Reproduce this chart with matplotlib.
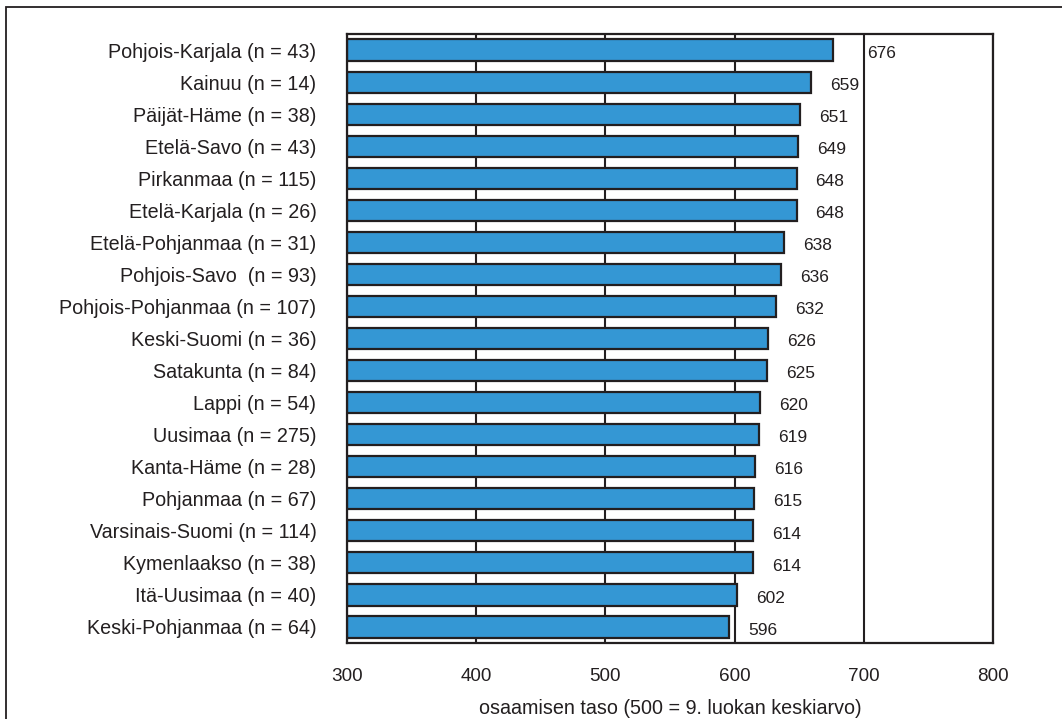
import matplotlib
matplotlib.use("Agg")
import matplotlib.pyplot as plt
from matplotlib import font_manager
from matplotlib.patches import Rectangle
import numpy as np

regions = [
    "Pohjois-Karjala (n = 43)",
    "Kainuu (n = 14)",
    "Päijät-Häme (n = 38)",
    "Etelä-Savo (n = 43)",
    "Pirkanmaa (n = 115)",
    "Etelä-Karjala (n = 26)",
    "Etelä-Pohjanmaa (n = 31)",
    "Pohjois-Savo  (n = 93)",
    "Pohjois-Pohjanmaa (n = 107)",
    "Keski-Suomi (n = 36)",
    "Satakunta (n = 84)",
    "Lappi (n = 54)",
    "Uusimaa (n = 275)",
    "Kanta-Häme (n = 28)",
    "Pohjanmaa (n = 67)",
    "Varsinais-Suomi (n = 114)",
    "Kymenlaakso (n = 38)",
    "Itä-Uusimaa (n = 40)",
    "Keski-Pohjanmaa (n = 64)",
]
scores = [676, 659, 651, 649, 648, 648, 638, 636, 632, 626,
          625, 620, 619, 616, 615, 614, 614, 602, 596]
x_ticks = [300, 400, 500, 600, 700, 800]
x_label = "osaamisen taso (500 = 9. luokan keskiarvo)"

BASE = 300
TEXT = "#231f20"
BAR = "#3497d4"

available = {f.name for f in font_manager.fontManager.ttflist}
family = "Liberation Sans Narrow" if "Liberation Sans Narrow" in available else "Liberation Sans"
narrow = family == "Liberation Sans Narrow"
plt.rcParams["font.family"] = [family, "DejaVu Sans"]
plt.rcParams["text.color"] = TEXT

fs_y = 17.3 if narrow else 14.2
fs_x = 16.7 if narrow else 13.6
fs_v = 15 if narrow else 12.5

fig = plt.figure(figsize=(10.62, 7.19), dpi=100)
ax = fig.add_axes([0.3267, 0.1057, 0.935 - 0.3267, 0.9527 - 0.1057])

# outer frame of the figure
fig.patches.append(Rectangle((6 / 1062, -0.05), 1.2, 1 - 7 / 719 + 0.05,
                             transform=fig.transFigure, fill=False,
                             edgecolor=TEXT, linewidth=1.3))

y = np.arange(len(regions))
vals = np.array(scores, dtype=float)
ax.barh(y, vals - BASE, left=BASE, height=0.66, color=BAR,
        edgecolor=TEXT, linewidth=1.6, zorder=3)

for xv in x_ticks:
    ax.axvline(xv, color=TEXT, linewidth=1.5, zorder=1)

ax.set_xlim(300, 800)
ax.set_ylim(len(regions) - 0.5, -0.5)
ax.set_xticks(x_ticks)
ax.set_xticklabels([str(v) for v in x_ticks], fontsize=fs_x, color=TEXT)
ax.set_yticks(y)
ax.set_yticklabels(regions, fontsize=fs_y, color=TEXT)
ax.tick_params(axis="both", length=0)
ax.tick_params(axis="y", pad=22)
ax.tick_params(axis="x", pad=18)
ax.set_xlabel(x_label, fontsize=fs_y, color=TEXT, labelpad=10)
for s in ax.spines.values():
    s.set_color(TEXT)
    s.set_linewidth(1.6)
    s.set_zorder(4)

# value labels; shift a label past a grid line it would otherwise cross
fig.canvas.draw()
renderer = fig.canvas.get_renderer()
px_per_unit = ax.transData.transform((101, 0))[0] - ax.transData.transform((100, 0))[0]
off_px = 19
for yi, v in zip(y, scores):
    t = ax.text(v, yi + 0.1, str(v), fontsize=fs_v, va="center", ha="left", color=TEXT,
                transform=ax.transData)
    w_px = t.get_window_extent(renderer).width
    start = v + off_px / px_per_unit
    end = start + w_px / px_per_unit
    for g in x_ticks:
        if start < g < end + 1:
            start = g + 3 / px_per_unit
    t.set_x(start)

fig.savefig("out.png", dpi=100)
